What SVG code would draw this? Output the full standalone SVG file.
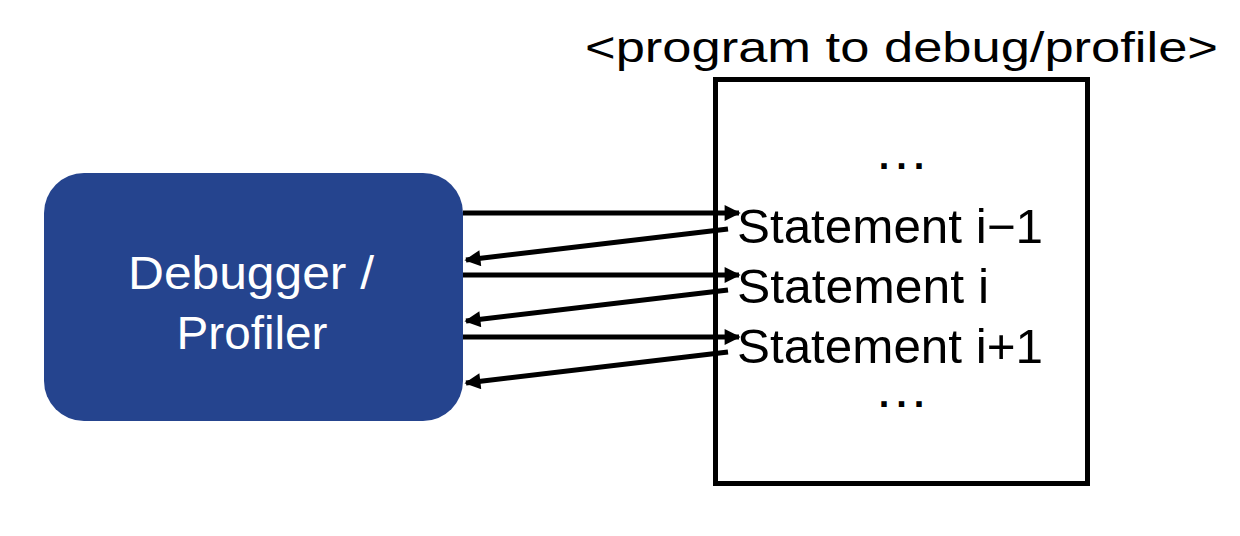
<svg xmlns="http://www.w3.org/2000/svg" width="1240" height="536" viewBox="0 0 1240 536">
<defs>
<style>
.t{font-family:"Liberation Sans",Arial,sans-serif;fill:#000}
.d{font-family:"Liberation Sans",Arial,sans-serif;fill:#000;font-size:38px;font-weight:bold;letter-spacing:7px;text-anchor:middle}
.w{font-family:"Liberation Sans",Arial,sans-serif;fill:#fff;font-size:46px;text-anchor:middle}
.c{stroke:#000;stroke-width:5;fill:none}
</style>
<marker id="ah" viewBox="0 0 10 10" refX="9" refY="5" markerWidth="4" markerHeight="3.2" markerUnits="strokeWidth" orient="auto">
<path d="M0,0 L10,5 L0,10 z" fill="#000"/>
</marker>
</defs>
<rect width="1240" height="536" fill="#fff"/>
<g id="debugger">
<rect x="44" y="173" width="419" height="248" rx="40" ry="40" fill="#25448e"/>
<text class="w" x="251" y="289" textLength="246" lengthAdjust="spacingAndGlyphs">Debugger /</text>
<text class="w" x="252" y="349" textLength="151" lengthAdjust="spacingAndGlyphs">Profiler</text>
</g>
<g id="program">
<text class="t" x="585" y="62" font-size="42" textLength="633" lengthAdjust="spacingAndGlyphs">&lt;program to debug/profile&gt;</text>
<rect x="715.5" y="79.5" width="372" height="404" fill="none" stroke="#000" stroke-width="5"/>
<text class="d" x="905" y="169">...</text>
<text class="t" x="737" y="243" font-size="48" textLength="306" lengthAdjust="spacingAndGlyphs">Statement i−1</text>
<text class="t" x="737" y="303" font-size="48" textLength="252" lengthAdjust="spacingAndGlyphs">Statement i</text>
<text class="t" x="737" y="363" font-size="48" textLength="306" lengthAdjust="spacingAndGlyphs">Statement i+1</text>
<text class="d" x="905" y="407">...</text>
</g>
<g id="connectors">
<line class="c" x1="463" y1="213" x2="739" y2="213" marker-end="url(#ah)"/>
<line class="c" x1="728" y1="229" x2="466" y2="260" marker-end="url(#ah)"/>
<line class="c" x1="463" y1="275" x2="739" y2="275" marker-end="url(#ah)"/>
<line class="c" x1="728" y1="290" x2="466" y2="321" marker-end="url(#ah)"/>
<line class="c" x1="463" y1="337" x2="739" y2="337" marker-end="url(#ah)"/>
<line class="c" x1="728" y1="352" x2="466" y2="383" marker-end="url(#ah)"/>
</g>
</svg>
